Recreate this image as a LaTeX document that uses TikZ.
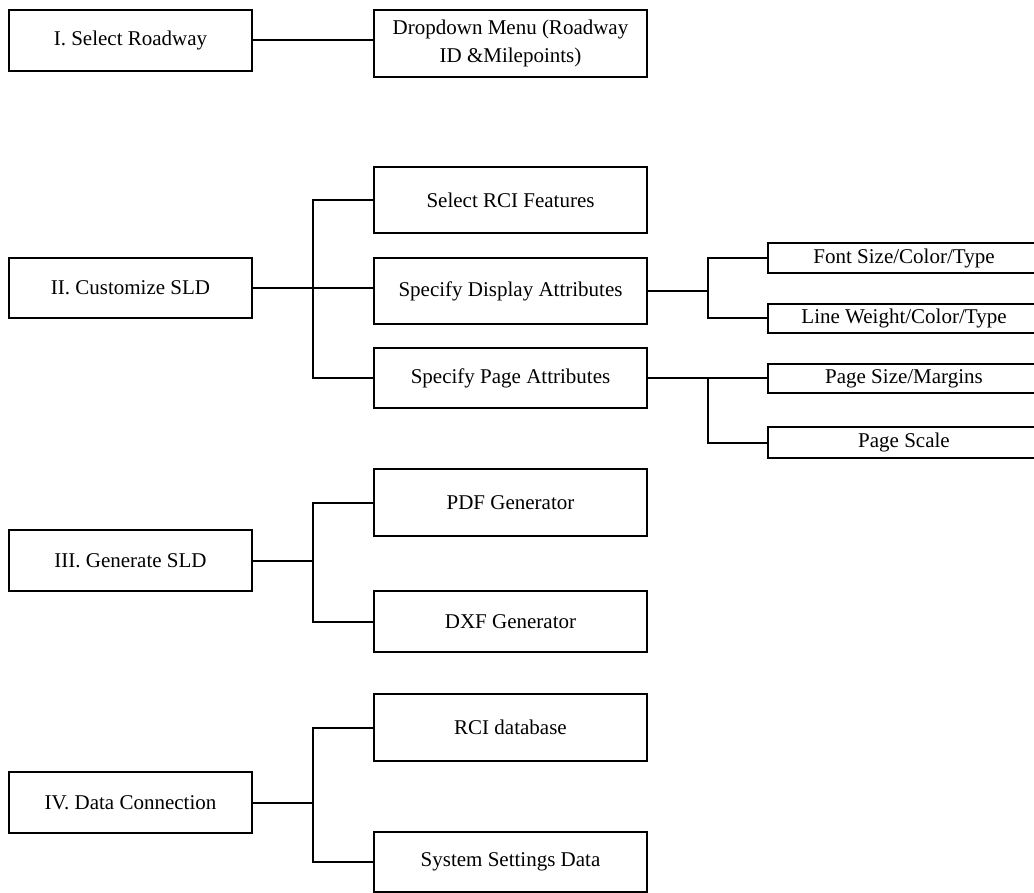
\documentclass[tikz,border=0pt]{standalone}
\usepackage{fontspec}
\setmainfont{Liberation Serif}
\begin{document}
\begin{tikzpicture}[x=1pt,y=-1pt,
  box/.style={draw=black,line width=2pt,inner sep=0pt,align=center,
    font=\fontsize{21}{27.5}\selectfont},
  conn/.style={draw=black,line width=2pt}]
\useasboundingbox (0,0) rectangle (1034,893);
% level 1
\node[box,minimum width=243pt,minimum height=61pt] (b1) at (130.5,40.5) {I. Select Roadway};
\node[box,minimum width=243pt,minimum height=60pt] (b2) at (130.5,288) {II. Customize SLD};
\node[box,minimum width=243pt,minimum height=61pt] (b3) at (130.5,560.5) {III. Generate SLD};
\node[box,minimum width=243pt,minimum height=61pt] (b4) at (130.5,802.5) {IV. Data Connection};
% level 2
\node[box,minimum width=273pt,minimum height=67pt] (b1a) at (510.5,43.5) {Dropdown Menu (Roadway\\ID \&Milepoints)};
\node[box,minimum width=273pt,minimum height=66pt] (b2a) at (510.5,200) {Select RCI Features};
\node[box,minimum width=273pt,minimum height=66pt] (b2b) at (510.5,291) {Specify Display Attributes};
\node[box,minimum width=273pt,minimum height=60pt] (b2c) at (510.5,378) {Specify Page Attributes};
\node[box,minimum width=273pt,minimum height=67pt] (b3a) at (510.5,502.5) {PDF Generator};
\node[box,minimum width=273pt,minimum height=61pt] (b3b) at (510.5,621.5) {DXF Generator};
\node[box,minimum width=273pt,minimum height=67pt] (b4a) at (510.5,727.5) {RCI database};
\node[box,minimum width=273pt,minimum height=60pt] (b4b) at (510.5,862) {System Settings Data};
% level 3
\node[box,minimum width=272pt,minimum height=30pt] (f1) at (904,258) {Font Size/Color/Type};
\node[box,minimum width=272pt,minimum height=29pt] (f2) at (904,318.5) {Line Weight/Color/Type};
\node[box,minimum width=272pt,minimum height=29pt] (p1) at (904,378.5) {Page Size/Margins};
\node[box,minimum width=272pt,minimum height=31pt] (p2) at (904,442.5) {Page Scale};
% trunks
\coordinate (t2) at (313,0);
\coordinate (t5) at (708,0);
% connectors
\draw[conn] (b1.east) -- (b1.east -| b1a.west);
\draw[conn] (b2.east) -- (b2.east -| b2b.west);
\draw[conn] (b2a.west) -- (b2a.west -| t2) -- (b2c.west -| t2) -- (b2c.west);
\draw[conn] (b2b.east) -- (b2b.east -| t5);
\draw[conn] (f1.west) -- (f1.west -| t5) -- (f2.west -| t5) -- (f2.west);
\draw[conn] (b2c.east) -- (b2c.east -| p1.west);
\draw[conn] (b2c.east -| t5) -- (p2.west -| t5) -- (p2.west);
\draw[conn] (b3.east) -- (b3.east -| t2);
\draw[conn] (b3a.west) -- (b3a.west -| t2) -- (b3b.west -| t2) -- (b3b.west);
\draw[conn] (b4.east) -- (b4.east -| t2);
\draw[conn] (b4a.west) -- (b4a.west -| t2) -- (b4b.west -| t2) -- (b4b.west);
\end{tikzpicture}
\end{document}
